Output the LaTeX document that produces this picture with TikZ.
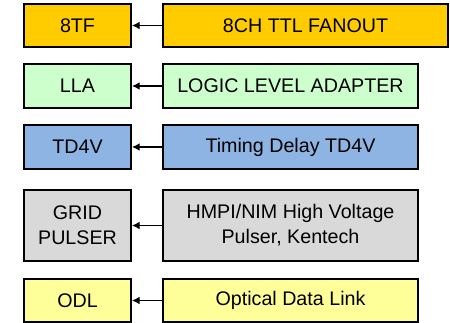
\documentclass[tikz,border=0pt]{standalone}
\usepackage{fontspec}
\setmainfont{Liberation Sans}
\usepackage{xcolor}
\usepackage{tikz}
\usetikzlibrary{shapes,arrows.meta}
\definecolor{fanout}{HTML}{FFCC00}
\definecolor{adapter}{HTML}{CCFFCC}
\definecolor{delay}{HTML}{8DB4E2}
\definecolor{pulser}{HTML}{D9D9D9}
\definecolor{optical}{HTML}{FFFF99}
\tikzstyle{unit} = [rectangle, draw, line width=2.6pt, text centered, align=center, inner sep=0pt, font=\fontsize{28}{35.5}\selectfont]
\tikzstyle{short} = [unit, minimum width=5.35cm]
\tikzstyle{long} = [unit, minimum width=12.75cm]
\tikzstyle{line} = [draw, line width=1.8pt, -{Latex[length=11pt,width=11pt]}]

\begin{document}
\begin{tikzpicture}
\useasboundingbox (0,0) rectangle (22.5,-16.15);
\node [short, fill=fanout, minimum height=2.15cm] (tf) at (3.875,-1.275) {8TF};
\node [unit, fill=fanout, minimum width=14.25cm, minimum height=2.15cm] (tf-long) at (15.275,-1.275) {8CH TTL FANOUT};
\path [line] (tf-long) -- (tf);
\node [short, fill=adapter, minimum height=2.2cm] (lla) at (3.875,-4.3) {LLA};
\node [long, fill=adapter, minimum height=2.2cm] (lla-long) at (14.525,-4.3) {LOGIC LEVEL ADAPTER};
\path [line] (lla-long) -- (lla);
\node [short, fill=delay, minimum height=2.2cm] (td) at (3.875,-7.35) {TD4V};
\node [long, fill=delay, minimum height=2.2cm] (td-long) at (14.525,-7.35) {Timing Delay TD4V};
\path [line] (td-long) -- (td);
\node [short, fill=pulser, minimum height=3.55cm] (grid) at (3.875,-11.275) {GRID\\PULSER};
\node [long, fill=pulser, minimum height=3.55cm] (grid-long) at (14.525,-11.275) {HMPI/NIM High Voltage\\Pulser, Kentech};
\path [line] (grid-long) -- (grid);
\node [short, fill=optical, minimum height=2.15cm] (odl) at (3.875,-15.025) {ODL};
\node [long, fill=optical, minimum height=2.15cm] (odl-long) at (14.525,-15.025) {Optical Data Link};
\path [line] (odl-long) -- (odl);
\end{tikzpicture}
\end{document}
